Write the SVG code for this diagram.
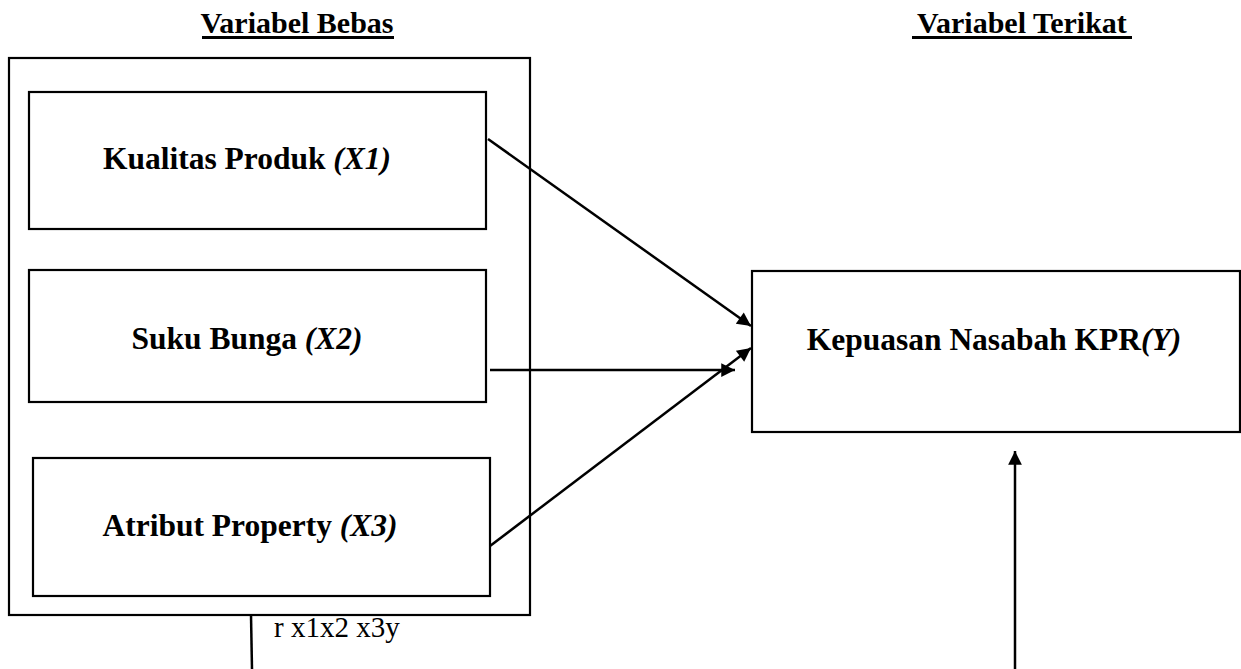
<svg xmlns="http://www.w3.org/2000/svg" width="1241" height="669" viewBox="0 0 1241 669">
<style>
.box{fill:none;stroke:#000;stroke-width:2.2}
.t{font-family:"Liberation Serif",serif;font-weight:bold;font-size:31.5px;fill:#000}
.h{font-family:"Liberation Serif",serif;font-weight:bold;font-size:30px;fill:#000}
.c{stroke:#000;stroke-width:2.5;fill:none}
.r{font-family:"Liberation Serif",serif;font-size:29px;fill:#000}
</style>
<defs>
<marker id="ah" viewBox="0 0 10 10" refX="10" refY="5" markerWidth="7" markerHeight="5.5" markerUnits="strokeWidth" orient="auto">
<path d="M0,0 L10,5 L0,10 z" fill="#000"/>
</marker>
</defs>
<rect width="1241" height="669" fill="#fff"/>
<g id="headings">
<text class="h" x="297" y="33" text-anchor="middle">Variabel Bebas</text>
<rect x="202" y="36" width="192" height="3" fill="#000"/>
<text class="h" x="1022" y="33" text-anchor="middle">Variabel Terikat</text>
<rect x="912" y="36" width="220" height="3" fill="#000"/>
</g>
<g id="group-bebas"><rect class="box" x="9" y="58" width="521" height="557"/></g>
<g id="x1"><rect class="box" x="29" y="92" width="457" height="137"/><text class="t" x="247" y="169" text-anchor="middle">Kualitas Produk <tspan font-style="italic">(X1)</tspan></text></g>
<g id="x2"><rect class="box" x="29" y="270" width="457" height="132"/><text class="t" x="247" y="349" text-anchor="middle">Suku Bunga <tspan font-style="italic">(X2)</tspan></text></g>
<g id="x3"><rect class="box" x="33" y="458" width="457" height="138"/><text class="t" x="250" y="536" text-anchor="middle">Atribut Property <tspan font-style="italic">(X3)</tspan></text></g>
<g id="y"><rect class="box" x="752" y="271" width="488" height="161"/><text class="t" x="994" y="350" text-anchor="middle">Kepuasan Nasabah KPR<tspan font-style="italic">(Y)</tspan></text></g>
<g id="connectors">
<line class="c" x1="488" y1="139" x2="751" y2="326" marker-end="url(#ah)"/>
<line class="c" x1="490" y1="370" x2="735" y2="370" marker-end="url(#ah)"/>
<line class="c" x1="490" y1="546" x2="751" y2="348" marker-end="url(#ah)"/>
<line class="c" x1="1015" y1="669" x2="1015" y2="451" marker-end="url(#ah)"/>
<line class="c" x1="251" y1="615" x2="252" y2="669"/>
</g>
<text class="r" x="274" y="637">r x1x2 x3y</text>
</svg>
